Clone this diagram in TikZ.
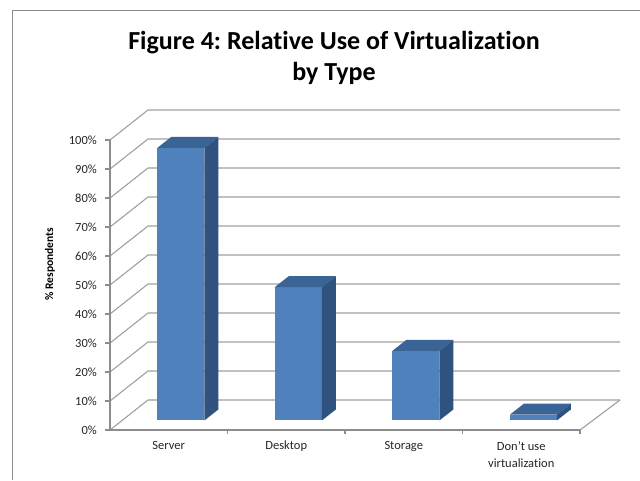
\documentclass[tikz,border=0pt]{standalone}
\usepackage{fontspec}
\setmainfont[Ligatures={NoCommon,NoRare,NoDiscretionary}]{Carlito}
\frenchspacing
\definecolor{barfront}{HTML}{4F81BD}
\definecolor{bartop}{HTML}{3B6496}
\definecolor{barside}{HTML}{30527E}
\definecolor{gridgray}{HTML}{A0A0A0}
\definecolor{axisgray}{HTML}{8C8C8C}
\definecolor{txt}{HTML}{262626}
\tikzset{
  gridln/.style={draw=gridgray, line width=1.1pt},
  axisln/.style={draw=axisgray, line width=1.1pt},
  ticklab/.style={font=\fontsize{12.5}{15}\selectfont, text=txt, inner sep=0pt},
  catlab/.style={font=\fontsize{12.5}{17}\selectfont, text=txt, inner sep=0pt, align=center, anchor=north},
}
\begin{document}
\begin{tikzpicture}[x=1pt,y=-1pt]
\useasboundingbox (0,0) rectangle (640,480);
\fill[white] (0,0) rectangle (640,480);
% outer chart border
\draw[draw=axisgray, line width=1.1pt] (12.5,480) -- (12.5,10.5) -- (640,10.5);
% title
\node[font=\fontsize{26}{31}\selectfont\bfseries, align=center, text=black] (title) at (334,58) {Figure 4: Relat\kern0pt ive Use of Virtualizat\kern0pt ion\\by Type};
% gridlines (left wall + back wall)
\foreach \v in {0,10,...,100}{
  \draw[gridln] (110,{430-2.9*\v}) -- (148,{400-2.9*\v}) -- (620,{400-2.9*\v});
  \draw[axisln] (105,{430-2.9*\v}) -- (110,{430-2.9*\v});
  \node[ticklab, anchor=east] (t\v) at (97,{430-2.9*\v}) {\v\%};
}
% floor right edge
\draw[gridln] (580,430) -- (620,400);
% axes
\draw[axisln] (110,140) -- (110,430) -- (580,430);
\foreach \k in {1,2,3,4}{
  \draw[axisln] ({110+117.5*\k},430) -- ({110+117.5*\k},434);
}
% y label
\node[rotate=90, font=\fontsize{11.5}{14}\selectfont\bfseries, text=black] (ylab) at (50,264) {\% Respondents};
% bars
\foreach \k/\val in {0/94,1/46,2/24,3/2}{
  \pgfmathsetmacro{\xl}{157.45+117.5*\k}
  \pgfmathsetmacro{\xr}{\xl+47}
  \pgfmathsetmacro{\yb}{420.4}
  \pgfmathsetmacro{\yt}{420.4-2.9*\val}
  \fill[barfront] (\xl,\yb) rectangle (\xr,\yt);
  \fill[bartop] (\xl,\yt) -- (\xr,\yt) -- ({\xr+14},{\yt-11}) -- ({\xl+14},{\yt-11}) -- cycle;
  \fill[barside] (\xr,\yt) -- ({\xr+14},{\yt-11}) -- ({\xr+14},{\yb-11}) -- (\xr,\yb) -- cycle;
}
% category labels
\node[catlab] (c1) at (168.75,441) {Server};
\node[catlab] (c2) at (286.25,441) {Desktop};
\node[catlab] (c3) at (403.75,441) {Storage};
\node[catlab] (c4) at (521.25,441) {Don’t use\\virtualizat\kern0pt ion};
\end{tikzpicture}
\end{document}
